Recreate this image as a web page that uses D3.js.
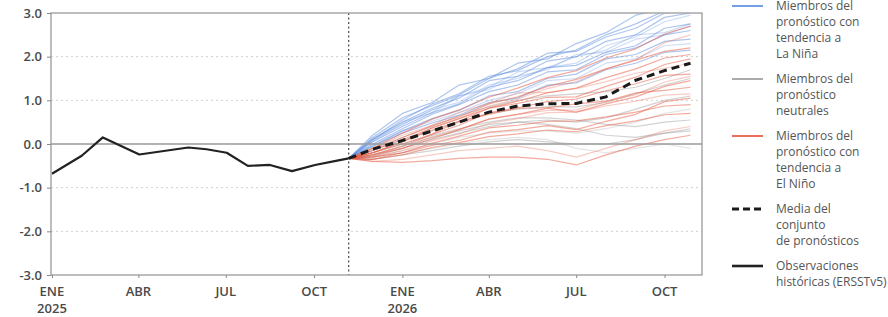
<!DOCTYPE html>
<html>
<head>
<meta charset="utf-8">
<script src="https://cdn.jsdelivr.net/npm/d3@7"></script>
<style>
  html, body { margin: 0; padding: 0; background: #fff; }
  svg { display: block; font-family: "Open Sans", sans-serif; }
</style>
</head>
<body>
<svg id="svg"></svg>
<script>
// observed Niño index (ERSSTv5)
const obsDates = ["2025-01-01","2025-02-01","2025-02-23","2025-04-02","2025-05-23","2025-06-11","2025-07-02","2025-07-24","2025-08-16","2025-09-08","2025-10-02","2025-10-25","2025-11-06"];
const obsValues = [-0.68, -0.27, 0.15, -0.24, -0.08, -0.12, -0.2, -0.5, -0.48, -0.62, -0.48, -0.38, -0.33];

// forecast dates (shared by mean and members)
const fcDates = ["2025-11-06","2025-12-01","2026-01-01","2026-02-01","2026-03-01","2026-04-01","2026-05-01","2026-06-01","2026-07-01","2026-08-01","2026-09-01","2026-10-01","2026-10-28"];
const meanValues = [-0.33, -0.12, 0.08, 0.3, 0.5, 0.73, 0.87, 0.92, 0.93, 1.08, 1.46, 1.68, 1.85];

const blueMembers = [
  [-0.33, 0.2, 0.7, 0.95, 1.35, 1.5, 1.85, 1.95, 2.3, 2.55, 2.95, 3.1, 3.2],
  [-0.33, 0.1, 0.55, 0.92, 1.15, 1.55, 1.68, 2.0, 2.15, 2.5, 2.75, 3.05, 3.15],
  [-0.33, 0.05, 0.45, 0.78, 1.1, 1.3, 1.65, 1.75, 2.0, 2.15, 2.5, 2.55, 2.75],
  [-0.33, 0.15, 0.6, 0.88, 1.12, 1.5, 1.72, 2.08, 2.12, 2.45, 2.65, 3.0, 3.05],
  [-0.33, 0.0, 0.35, 0.68, 0.9, 1.2, 1.35, 1.65, 1.7, 2.05, 2.2, 2.5, 2.6],
  [-0.33, 0.08, 0.5, 0.72, 1.1, 1.25, 1.55, 1.7, 2.05, 2.1, 2.4, 2.5, 2.7],
  [-0.33, -0.05, 0.3, 0.58, 0.77, 1.1, 1.2, 1.5, 1.6, 1.95, 2.05, 2.35, 2.4],
  [-0.33, 0.05, 0.4, 0.72, 0.92, 1.3, 1.45, 1.75, 1.8, 2.1, 2.25, 2.65, 2.75],
  [-0.33, -0.02, 0.3, 0.52, 0.72, 1.0, 1.15, 1.45, 1.5, 1.85, 1.95, 2.25, 2.3],
  [-0.33, 0.12, 0.5, 0.82, 1.05, 1.45, 1.55, 1.9, 2.0, 2.35, 2.5, 2.9, 3.0],
  [-0.33, -0.05, 0.25, 0.48, 0.66, 0.95, 1.05, 1.35, 1.4, 1.7, 1.85, 2.1, 2.15],
  [-0.33, 0.1, 0.45, 0.78, 0.96, 1.35, 1.5, 1.75, 1.85, 2.25, 2.45, 2.8, 2.95]
];

const grayMembers = [
  [-0.33, -0.15, 0.1, 0.3, 0.5, 0.7, 0.8, 0.85, 0.85, 0.95, 1.15, 1.35, 1.5],
  [-0.33, -0.25, -0.05, 0.15, 0.3, 0.45, 0.5, 0.55, 0.5, 0.6, 0.8, 1.0, 1.1],
  [-0.33, -0.3, -0.15, 0.0, 0.15, 0.25, 0.3, 0.3, 0.25, 0.35, 0.5, 0.7, 0.8],
  [-0.33, -0.2, 0.0, 0.2, 0.35, 0.5, 0.6, 0.6, 0.55, 0.45, 0.4, 0.5, 0.55],
  [-0.33, -0.35, -0.25, -0.15, -0.05, 0.05, 0.1, 0.05, 0.0, 0.0, 0.1, 0.25, 0.3],
  [-0.33, -0.3, -0.2, -0.1, 0.0, 0.1, 0.15, 0.1, -0.1, -0.2, -0.1, 0.0, -0.1],
  [-0.33, -0.1, 0.15, 0.4, 0.65, 0.85, 1.0, 1.1, 1.15, 1.2, 1.3, 1.5, 1.7],
  [-0.33, -0.28, -0.1, 0.1, 0.25, 0.4, 0.5, 0.45, 0.35, 0.2, 0.15, 0.25, 0.35]
];

const redMembers = [
  [-0.33, -0.15, 0.15, 0.42, 0.62, 0.92, 1.08, 1.32, 1.48, 1.72, 1.92, 2.12, 2.2],
  [-0.33, -0.2, 0.05, 0.32, 0.52, 0.82, 0.98, 1.17, 1.28, 1.52, 1.72, 1.97, 2.05],
  [-0.33, -0.1, 0.2, 0.43, 0.72, 0.93, 1.17, 1.18, 1.27, 1.43, 1.62, 1.73, 1.85],
  [-0.33, -0.25, -0.05, 0.22, 0.43, 0.72, 0.83, 0.97, 1.03, 1.22, 1.38, 1.57, 1.6],
  [-0.33, -0.2, 0.0, 0.23, 0.52, 0.68, 0.82, 0.83, 0.92, 0.98, 1.17, 1.23, 1.3],
  [-0.33, -0.3, -0.15, 0.07, 0.23, 0.47, 0.58, 0.72, 0.73, 0.87, 0.98, 1.12, 1.15],
  [-0.33, -0.3, -0.2, 0.02, 0.18, 0.37, 0.43, 0.52, 0.53, 0.62, 0.73, 0.87, 0.9],
  [-0.33, -0.35, -0.25, -0.08, 0.03, 0.17, 0.23, 0.32, 0.28, 0.42, 0.53, 0.67, 0.7],
  [-0.33, -0.15, 0.1, 0.37, 0.58, 0.87, 1.03, 1.27, 1.43, 1.72, 1.93, 2.32, 2.5],
  [-0.33, -0.1, 0.25, 0.57, 0.78, 1.07, 1.28, 1.52, 1.68, 1.97, 2.18, 2.52, 2.7],
  [-0.33, -0.25, -0.1, 0.12, 0.33, 0.57, 0.68, 0.82, 0.73, 0.92, 1.08, 1.32, 1.45],
  [-0.33, -0.4, -0.35, -0.25, -0.15, -0.1, -0.05, -0.15, -0.3, -0.1, 0.1, 0.3, 0.4],
  [-0.33, -0.4, -0.42, -0.38, -0.33, -0.3, -0.3, -0.35, -0.48, -0.25, -0.05, 0.1, 0.2],
  [-0.33, -0.2, 0.05, 0.37, 0.58, 0.82, 0.93, 1.07, 1.08, 1.32, 1.53, 1.82, 1.95],
  [-0.33, -0.28, -0.1, 0.17, 0.33, 0.57, 0.68, 0.77, 0.78, 0.97, 1.13, 1.42, 1.55],
  [-0.33, -0.35, -0.2, -0.03, 0.08, 0.27, 0.33, 0.42, 0.33, 0.52, 0.68, 0.97, 1.05]
];

const yTicks = [-3, -2, -1, 0, 1, 2, 3];
const xTickDates = ["2025-01-01","2025-04-01","2025-07-01","2025-10-01","2026-01-01","2026-04-01","2026-07-01","2026-10-01"];
const xTickMonths = ["ENE","ABR","JUL","OCT","ENE","ABR","JUL","OCT"];
const xTickYears = ["2025","","","","2026","","",""];
const forecastStart = "2025-11-06";

const legendItems = [
  { key: "blue", lines: ["Miembros del", "pronóstico con", "tendencia a", "La Niña"] },
  { key: "gray", lines: ["Miembros del", "pronóstico", "neutrales"] },
  { key: "red", lines: ["Miembros del", "pronóstico con", "tendencia a", "El Niño"] },
  { key: "mean", lines: ["Media del", "conjunto", "de pronósticos"] },
  { key: "obs", lines: ["Observaciones", "históricas (ERSSTv5)"] }
];

const W = 888, H = 317;
const M = { left: 51, top: 13, right: 186, bottom: 42 };
const pw = W - M.left - M.right, ph = H - M.top - M.bottom;

const parse = d3.timeParse("%Y-%m-%d");
const svg = d3.select("#svg").attr("width", W).attr("height", H);

const x = d3.scaleTime()
  .domain([parse("2024-12-31"), parse("2026-11-09")])
  .range([M.left, M.left + pw]);
const y = d3.scaleLinear().domain([-3, 3]).range([M.top + ph, M.top]);

const styles = {
  blue: { stroke: "#5d8ee0", width: 1.2, opacity: 0.5 },
  gray: { stroke: "#9c9c9c", width: 1.2, opacity: 0.45 },
  red: { stroke: "#e8573f", width: 1.2, opacity: 0.5 }
};

// grid
svg.append("g").selectAll("line")
  .data(yTicks.filter(d => d !== 0 && Math.abs(d) !== 3))
  .join("line")
  .attr("x1", M.left).attr("x2", M.left + pw)
  .attr("y1", d => y(d)).attr("y2", d => y(d))
  .attr("stroke", "#cfcfcf").attr("stroke-dasharray", "2,3");

// clip
svg.append("clipPath").attr("id", "clip")
  .append("rect").attr("x", M.left).attr("y", M.top).attr("width", pw).attr("height", ph);

const fcX = fcDates.map(parse);
const line = d3.line().x((d, i) => x(fcX[i])).y(d => y(d));

const members = svg.append("g").attr("clip-path", "url(#clip)");
[["blue", blueMembers], ["gray", grayMembers], ["red", redMembers]].forEach(([k, arr]) => {
  members.append("g").selectAll("path")
    .data(arr)
    .join("path")
    .attr("d", line)
    .attr("fill", "none")
    .attr("stroke", styles[k].stroke)
    .attr("stroke-width", styles[k].width)
    .attr("stroke-opacity", (d, i) => styles[k].opacity * (i % 3 === 2 ? 0.6 : 1))
    .attr("stroke-linejoin", "round");
});

// zero line
svg.append("line")
  .attr("x1", M.left).attr("x2", M.left + pw)
  .attr("y1", y(0)).attr("y2", y(0))
  .attr("stroke", "#9a9a9a").attr("stroke-width", 1.5);

// forecast start marker
svg.append("line")
  .attr("x1", x(parse(forecastStart))).attr("x2", x(parse(forecastStart)))
  .attr("y1", M.top).attr("y2", M.top + ph)
  .attr("stroke", "#555").attr("stroke-width", 1.3).attr("stroke-dasharray", "2,2.5");

// observed
const obsLine = d3.line().x((d, i) => x(parse(obsDates[i]))).y(d => y(d));
svg.append("path")
  .attr("d", obsLine(obsValues))
  .attr("fill", "none").attr("stroke", "#222").attr("stroke-width", 2.2)
  .attr("stroke-linejoin", "round");

// ensemble mean
svg.append("path")
  .attr("d", line(meanValues))
  .attr("fill", "none").attr("stroke", "#1a1a1a").attr("stroke-width", 3)
  .attr("stroke-dasharray", "8,5");

// frame
svg.append("rect")
  .attr("x", M.left).attr("y", M.top).attr("width", pw).attr("height", ph)
  .attr("fill", "none").attr("stroke", "#9a9a9a").attr("stroke-width", 1.3);

// y axis
const yAxis = svg.append("g")
  .attr("transform", `translate(${M.left},0)`)
  .call(d3.axisLeft(y).tickValues(yTicks).tickSize(4).tickPadding(5).tickFormat(d => d.toFixed(1)));
yAxis.select(".domain").remove();
yAxis.selectAll("line").attr("stroke", "#888");
yAxis.selectAll("text")
  .attr("font-family", "Open Sans").attr("font-size", 13).attr("font-weight", 600).attr("fill", "#4a4a4a");

// x axis
const xAxis = svg.append("g")
  .attr("transform", `translate(0,${M.top + ph})`)
  .call(d3.axisBottom(x).tickValues(xTickDates.map(parse)).tickSize(3).tickFormat(""));
xAxis.select(".domain").remove();
xAxis.selectAll("line").attr("stroke", "#888");
const xt = svg.append("g").selectAll("g")
  .data(xTickDates)
  .join("g")
  .attr("transform", d => `translate(${x(parse(d))},0)`);
xt.append("text")
  .attr("y", M.top + ph + 16).attr("dy", "0.35em")
  .attr("text-anchor", "middle")
  .attr("font-size", 13).attr("font-weight", 600).attr("fill", "#4a4a4a")
  .text((d, i) => xTickMonths[i]);
xt.append("text")
  .attr("y", M.top + ph + 33).attr("dy", "0.35em")
  .attr("text-anchor", "middle")
  .attr("font-size", 13).attr("font-weight", 600).attr("fill", "#4a4a4a")
  .text((d, i) => xTickYears[i]);

// legend
const lg = svg.append("g").attr("transform", "translate(732,6)");
let ly = 0;
legendItems.forEach(item => {
  const g = lg.append("g").attr("transform", `translate(0,${ly})`);
  const ln = g.append("line").attr("x1", 0).attr("x2", 31).attr("y1", 0).attr("y2", 0);
  if (item.key === "mean") {
    ln.attr("stroke", "#1a1a1a").attr("stroke-width", 3).attr("stroke-dasharray", "7,4");
  } else if (item.key === "obs") {
    ln.attr("stroke", "#222").attr("stroke-width", 2.6);
  } else {
    ln.attr("stroke", styles[item.key].stroke).attr("stroke-width", 2).attr("stroke-opacity", 0.85);
  }
  g.selectAll("text")
    .data(item.lines)
    .join("text")
    .attr("x", 44).attr("y", (d, i) => i * 16).attr("dy", "0.35em")
    .attr("font-size", 12).attr("fill", "#555")
    .text(d => d);
  ly += item.lines.length * 16 + 9;
});
</script>
</body>
</html>
